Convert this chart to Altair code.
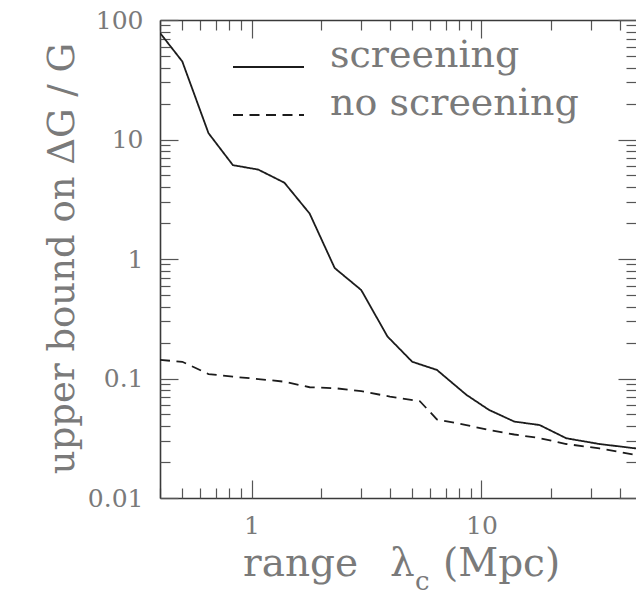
import altair as alt
import pandas as pd

# ---- data ----
series_names = ["screening", "no screening"]
x_screening = [0.4, 0.5, 0.65, 0.83, 1.07, 1.39, 1.79, 2.3, 3.0, 3.9, 5.0, 6.4,
               8.6, 10.8, 13.9, 17.9, 23.4, 32.6, 47]
y_screening = [78, 45, 11.3, 6.1, 5.6, 4.35, 2.4, 0.84, 0.55, 0.225, 0.138, 0.118,
               0.073, 0.0545, 0.0436, 0.0408, 0.0316, 0.0283, 0.026]
x_no_screening = [0.4, 0.5, 0.65, 0.83, 1.07, 1.39, 1.79, 2.3, 3.0, 4.0, 5.4, 6.4,
                  8.6, 10.8, 13.9, 17.9, 23.4, 32.6, 47]
y_no_screening = [0.143, 0.138, 0.109, 0.1035, 0.099, 0.094, 0.0845, 0.083, 0.0785,
                  0.0705, 0.0645, 0.0455, 0.0408, 0.037, 0.034, 0.0317, 0.0283,
                  0.026, 0.0229]

x_label_values = [1, 10]
y_label_values = [0.01, 0.1, 1, 10, 100]
x_tick_values = [0.4, 0.5, 0.6, 0.7, 0.8, 0.9, 1, 2, 3, 4, 5, 6, 7, 8, 9,
                 10, 20, 30, 40]
y_tick_values = [0.01, 0.02, 0.03, 0.04, 0.05, 0.06, 0.07, 0.08, 0.09,
                 0.1, 0.2, 0.3, 0.4, 0.5, 0.6, 0.7, 0.8, 0.9,
                 1, 2, 3, 4, 5, 6, 7, 8, 9,
                 10, 20, 30, 40, 50, 60, 70, 80, 90, 100]

df = pd.concat([
    pd.DataFrame({"x": x_screening, "y": y_screening, "series": series_names[0]}),
    pd.DataFrame({"x": x_no_screening, "y": y_no_screening, "series": series_names[1]}),
], ignore_index=True)

# ---- styling ----
FONT = "DejaVu Serif"
GRAY = "#7a7a7a"
LINE = "#1c1c1c"
FRAME = "#3a3a3a"
TICK = "#555555"
W, H = 476, 478

xs = alt.Scale(type="log", domain=[0.4, 47], nice=False)
ys = alt.Scale(type="log", domain=[0.01, 100], nice=False)

major = "abs(log(datum.value)/LN10 - round(log(datum.value)/LN10)) < 0.0001"
tsize = {"condition": {"test": major, "value": 18}, "value": 10}

tick_common = dict(labels=False, ticks=True, tickSize=tsize, tickColor=TICK,
                   tickWidth=1.2, grid=False, title=None,
                   domainColor=FRAME, domainWidth=1.6)

ax_bottom = alt.Axis(orient="bottom", values=x_label_values, format="~g",
                     ticks=False, tickSize=0, domain=True, domainColor=FRAME,
                     domainWidth=1.6, labelFont=FONT, labelFontSize=25,
                     labelColor=GRAY, labelPadding=15, labelFlush=False,
                     grid=False, title=None)
ax_left = alt.Axis(orient="left", values=y_label_values, format="~g",
                   ticks=False, tickSize=0, domain=True, domainColor=FRAME,
                   domainWidth=1.6, labelFont=FONT, labelFontSize=25,
                   labelColor=GRAY, labelPadding=17, grid=False,
                   title="upper  bound  on  ΔG / G", titleFont=FONT,
                   titleFontSize=37, titleFontWeight="normal", titleColor=GRAY,
                   titleAngle=270, titleAlign="center",
                   titleBaseline="alphabetic", titleX=-87, titleY=238)

ax_xt_bot = alt.Axis(orient="top", offset=-H, values=x_tick_values,
                     domain=False, **tick_common)
ax_xt_top = alt.Axis(orient="bottom", offset=-H, values=x_tick_values,
                     domain=True, **tick_common)
ax_yt_left = alt.Axis(orient="right", offset=-W, values=y_tick_values,
                      domain=False, **tick_common)
ax_yt_right = alt.Axis(orient="left", offset=-W, values=y_tick_values,
                       domain=False, **tick_common)

legend = alt.Legend(orient="none", legendX=72, legendY=32, title=None,
                    labelFont=FONT, labelFontSize=38, labelColor=GRAY,
                    labelBaseline="alphabetic", labelOffset=25, labelLimit=500,
                    symbolType="stroke", symbolSize=5041, symbolStrokeWidth=1.8,
                    symbolStrokeColor=LINE, clipHeight=30, rowPadding=3,
                    padding=0)

lines = alt.Chart(df).mark_line(color=LINE, strokeWidth=1.8, clip=True).encode(
    x=alt.X("x:Q", scale=xs, axis=ax_bottom),
    y=alt.Y("y:Q", scale=ys, axis=ax_left),
    strokeDash=alt.StrokeDash(
        "series:N",
        scale=alt.Scale(domain=series_names, range=[[1, 0], [10, 6.5]]),
        sort=series_names, legend=legend),
)

ticks_a = alt.Chart(df).mark_point(opacity=0).encode(
    x=alt.X("x:Q", scale=xs, axis=ax_xt_bot),
    y=alt.Y("y:Q", scale=ys, axis=ax_yt_left),
)
ticks_b = alt.Chart(df).mark_point(opacity=0).encode(
    x=alt.X("x:Q", scale=xs, axis=ax_xt_top),
    y=alt.Y("y:Q", scale=ys, axis=ax_yt_right),
)

one = pd.DataFrame({"k": [0]})


def title_piece(text, px, py, size):
    return alt.Chart(one).mark_text(
        text=text, font=FONT, fontSize=size, color=GRAY,
        align="left", baseline="alphabetic"
    ).encode(x=alt.value(px), y=alt.value(py))


t_range = title_piece("range", 83, 556, 39)
t_lambda = title_piece("λ", 230, 556, 39)
t_sub = title_piece("c", 255, 570, 26)
t_unit = title_piece("(Mpc)", 283, 556, 39)

chart = alt.layer(
    lines, ticks_a, ticks_b, t_range, t_lambda, t_sub, t_unit
).resolve_axis(
    x="independent", y="independent"
).properties(
    width=W, height=H,
    autosize=alt.AutoSizeParams(type="none"),
    padding={"left": 160, "top": 20, "right": 0, "bottom": 97},
).configure_view(stroke=None)

chart.save("out.html", embed_options={"renderer": "svg", "actions": False})
